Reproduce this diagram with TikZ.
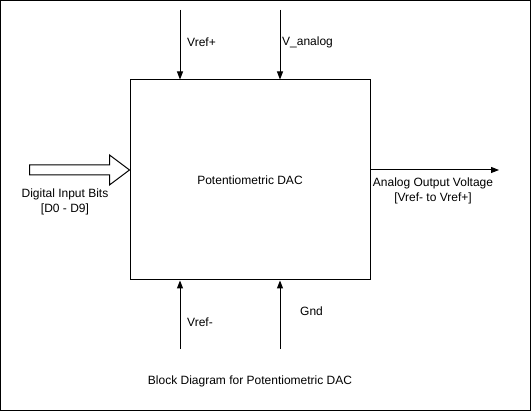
\documentclass[tikz,border=0pt]{standalone}
\usepackage{fontspec}
\setmainfont{Liberation Sans}
\usetikzlibrary{arrows.meta, calc}

\begin{document}
\begin{tikzpicture}[
        x=1pt, y=-1pt,
        font=\fontsize{12pt}{14.5pt}\selectfont,
        block/.style={
            rectangle,
            draw=black,
            line width=1pt,
            minimum width=240pt,
            minimum height=200pt,
            inner sep=0pt
        },
        hollow/.style={
            draw=black,
            fill=white,
            line width=1pt,
            line join=miter
        },
        signal/.style={
            -{Triangle[length=8pt, width=6pt]},
            line width=1pt
        },
        lbl/.style={
            inner sep=0pt,
            align=center
        }
    ]
        \useasboundingbox (0,0) rectangle (531,411);
        \draw[line width=1pt] (0.5,0.5) rectangle (530.5,410.5);

        \node[block] (dac) at (250,180) {Potentiometric DAC};

        % top inputs
        \coordinate (vpin) at (180,10);
        \coordinate (vain) at (280,10);
        \draw[signal] (vpin) -- (vpin |- dac.north);
        \draw[signal] (vain) -- (vain |- dac.north);
        \node[lbl, anchor=west] (vplbl) at (187,42) {Vref+};
        \node[lbl, anchor=west] (valbl) at (282,42) {V\_analog};

        % bottom inputs
        \coordinate (vmin) at (180,349);
        \coordinate (gndin) at (280,349);
        \draw[signal] (vmin) -- (vmin |- dac.south);
        \draw[signal] (gndin) -- (gndin |- dac.south);
        \node[lbl, anchor=west] (vmlbl) at (187,322) {Vref-};
        \node[lbl, anchor=west] (gndlbl) at (300,311) {Gnd};

        % digital input (wide arrow)
        \coordinate (dtip) at (dac.west |- 0,170);
        \draw[hollow] (dtip) -- ++(-20,-15) -- ++(0,10) -- ++(-80,0)
            -- ++(0,10) -- ++(80,0) -- ++(0,10) -- cycle;
        \node[lbl] (dinlbl) at (65,202) {Digital Input Bits\\{}[D0 - D9]};

        % analog output
        \coordinate (aout) at (499,170);
        \draw[signal] (dac.east |- aout) -- (aout);
        \node[lbl] (aoutlbl) at (433,191) {Analog Output Voltage\\{}[Vref- to Vref+]};

        \node[lbl] (caption) at (250,381) {Block Diagram for Potentiometric DAC};
    \end{tikzpicture}
\end{document}
